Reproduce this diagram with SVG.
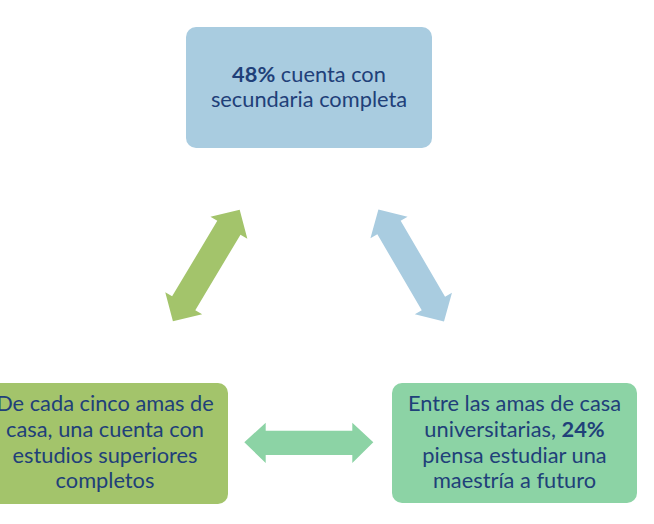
<svg xmlns="http://www.w3.org/2000/svg" width="654" height="524" viewBox="0 0 654 524">
<style>
.t{font-family:Lato,"Open Sans","Liberation Sans",sans-serif;font-size:21.8px;fill:#1F4079;text-anchor:middle}
.b{font-weight:bold}
</style>
<defs>
<path id="diag" d="M-65,0 L-44,-21.5 L-44,-13.5 L44,-13.5 L44,-21.5 L65,0 L44,21.5 L44,13.5 L-44,13.5 L-44,21.5 Z"/>
</defs>
<rect width="654" height="524" fill="#ffffff"/>
<g id="connectors">
<use href="#diag" fill="#A3C46B" transform="translate(206.3,265.5) rotate(-59.1)"/>
<use href="#diag" fill="#A9CCE0" transform="translate(411.2,265.5) rotate(59.7)"/>
<path d="M244.3,442.3 L265.7,422.7 L265.7,430.7 L352.3,430.7 L352.3,422.7 L373.3,442.3 L352.3,462.9 L352.3,454.9 L265.7,454.9 L265.7,462.9 Z" fill="#8CD3A5"/>
</g>
<g id="node-top">
<rect x="186" y="27" width="246" height="121" rx="10" fill="#A9CCE0"/>
<text class="t" x="309" y="82"><tspan class="b">48%</tspan> cuenta con</text>
<text class="t" x="309" y="107">secundaria completa</text>
</g>
<g id="node-left">
<rect x="-18" y="383" width="246" height="121" rx="10" fill="#A3C46B"/>
<text class="t" x="105" y="411">De cada cinco amas de</text>
<text class="t" x="105" y="437">casa, una cuenta con</text>
<text class="t" x="105" y="463">estudios superiores</text>
<text class="t" x="105" y="488">completos</text>
</g>
<g id="node-right">
<rect x="392" y="383" width="245" height="120" rx="10" fill="#8CD3A5"/>
<text class="t" x="514.5" y="411">Entre las amas de casa</text>
<text class="t" x="514.5" y="437">universitarias, <tspan class="b">24%</tspan></text>
<text class="t" x="514.5" y="463">piensa estudiar una</text>
<text class="t" x="514.5" y="488">maestría a futuro</text>
</g>
</svg>
